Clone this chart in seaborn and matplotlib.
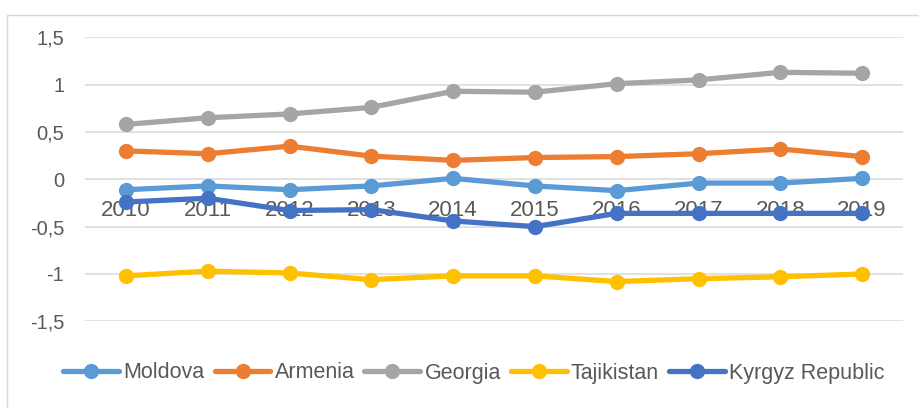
import matplotlib
matplotlib.use("Agg")
import matplotlib.pyplot as plt
from matplotlib.patches import Rectangle
import seaborn as sns
import pandas as pd

years = ["2010", "2011", "2012", "2013", "2014", "2015", "2016", "2017", "2018", "2019"]
moldova = [-0.11, -0.07, -0.11, -0.07, 0.01, -0.07, -0.12, -0.04, -0.04, 0.01]
armenia = [0.30, 0.27, 0.35, 0.245, 0.20, 0.23, 0.24, 0.27, 0.32, 0.24]
georgia = [0.58, 0.65, 0.69, 0.76, 0.93, 0.92, 1.01, 1.05, 1.13, 1.12]
tajikistan = [-1.02, -0.97, -0.99, -1.06, -1.02, -1.02, -1.08, -1.05, -1.03, -1.00]
kyrgyz = [-0.24, -0.20, -0.33, -0.32, -0.44, -0.50, -0.36, -0.36, -0.36, -0.36]

series_names = ["Moldova", "Armenia", "Georgia", "Tajikistan", "Kyrgyz Republic"]
series_values = [moldova, armenia, georgia, tajikistan, kyrgyz]
colors = ["#5B9BD5", "#ED7D31", "#A5A5A5", "#FFC000", "#4472C4"]
y_ticks = [-1.5, -1, -0.5, 0, 0.5, 1, 1.5]
y_tick_labels = ["-1,5", "-1", "-0,5", "0", "0,5", "1", "1,5"]

rows = []
for name, vals in zip(series_names, series_values):
    for i, v in enumerate(vals):
        rows.append({"pos": i, "year": years[i], "value": v, "country": name})
df = pd.DataFrame(rows)

sns.set_style("white")
plt.rcParams["font.family"] = ["Liberation Sans", "DejaVu Sans"]

fig = plt.figure(figsize=(9.2, 4.08), dpi=100)
W, H = 920, 408
left, right, top, bottom = 85, 903, 37.3, 321.3
ax = fig.add_axes([left / W, 1 - bottom / H, (right - left) / W, (bottom - top) / H])

# outer chart border
fig.patches.append(Rectangle((7 / W, -0.1), 1.2, 1 - 15 / H + 0.1, transform=fig.transFigure,
                             fill=False, edgecolor="#D9D9D9", linewidth=1.0))

ax.set_ylim(-1.5, 1.5)
ax.set_xlim(-0.5, len(years) - 0.5)
for t in y_ticks:
    ax.axhline(t, color="#D9D9D9", linewidth=1.1, zorder=0)

sns.lineplot(data=df, x="pos", y="value", hue="country", hue_order=series_names,
             palette=colors, marker="o", markersize=11, markeredgewidth=0,
             linewidth=3.8, ax=ax, legend=False, zorder=3)

for s in ax.spines.values():
    s.set_visible(False)
ax.spines["bottom"].set_position(("data", 0))
ax.set_xticks(range(len(years)))
ax.set_xticklabels(years, fontsize=16, color="#595959")
ax.set_yticks(y_ticks)
ax.set_yticklabels(y_tick_labels, fontsize=14.5, color="#595959")
ax.tick_params(axis="x", length=0, pad=15)
ax.tick_params(axis="y", length=0, pad=15)
ax.set_xlabel("")
ax.set_ylabel("")
for lbl in ax.get_xticklabels():
    lbl.set_zorder(2)

handles = [plt.Line2D([0], [0], color=c, linewidth=3.8, marker="o", markersize=11,
                      markeredgewidth=0) for c in colors]
fig.legend(handles, series_names, loc="center", bbox_to_anchor=(474 / W, 1 - 373 / H),
           ncol=5, frameon=False, fontsize=15.5, handlelength=2.6, handletextpad=0.2,
           columnspacing=0.45, labelcolor="#595959")

fig.savefig("out.png", dpi=100)
